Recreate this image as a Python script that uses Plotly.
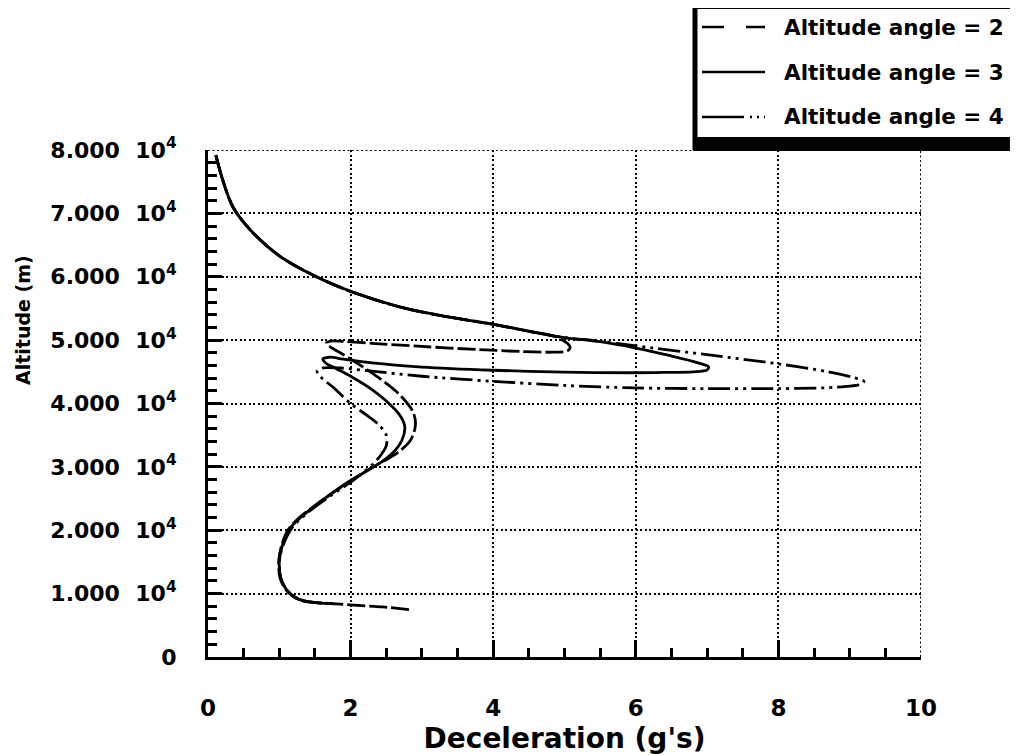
import plotly.graph_objects as go

# ---------------- data ----------------
common_dec = [0.11, 0.2, 0.35, 0.6, 1.0, 1.5, 2.0, 2.7, 3.3, 4.0, 4.5]
common_alt = [79200, 75500, 71000, 67300, 63300, 60100, 57700, 55200, 53800, 52500, 51400]

dec_2 = common_dec + [4.88, 5.04, 5.08, 5.04, 4.85, 4.4, 3.8, 3.0, 2.3, 1.9, 1.72, 1.66, 1.72, 1.9, 2.25,
                      2.65, 2.87, 2.91, 2.84, 2.63, 2.38, 2.1, 1.8, 1.5, 1.27, 1.12, 1.03, 0.99, 1.01,
                      1.08, 1.2, 1.35, 1.55, 1.85, 2.1, 2.45, 2.85]
alt_2 = common_alt + [50500, 49500, 48800, 48300, 48100, 48200, 48500, 49000, 49500, 49800, 49850, 49500,
                      48900, 47700, 45200, 41800, 38800, 36700, 34200, 32000, 30400, 28500, 26300, 23900,
                      21900, 20000, 17500, 15000, 12500, 10800, 9500, 8800, 8550, 8350, 8150, 7900, 7450]

dec_3 = common_dec + [5.0, 5.5, 6.0, 6.5, 6.85, 7.02, 7.0, 6.8, 6.4, 6.0, 5.0, 4.0, 3.0, 2.3, 1.9, 1.7,
                      1.61, 1.65, 1.8, 2.0, 2.3, 2.52, 2.7, 2.76, 2.72, 2.6, 2.45, 2.25, 1.95, 1.6, 1.35,
                      1.15, 1.04, 1.0, 1.02, 1.09, 1.21, 1.36, 1.55, 1.75]
alt_3 = common_alt + [50400, 49750, 48750, 47500, 46500, 45800, 45300, 45000, 44900, 44850, 44950, 45250,
                      45750, 46400, 47000, 47300, 47000, 46400, 45500, 44300, 42200, 40200, 38000, 36300,
                      34200, 32300, 30900, 29500, 27500, 24700, 22500, 20300, 17500, 15000, 12500, 10800,
                      9500, 8800, 8550, 8420]

dec_4 = common_dec + [5.0, 5.5, 6.0, 7.0, 8.0, 8.7, 9.05, 9.2, 9.15, 8.95, 8.7, 8.0, 7.0, 6.0, 5.0, 4.0,
                      3.0, 2.3, 1.85, 1.6, 1.53, 1.58, 1.75, 2.0, 2.22, 2.4, 2.5, 2.5, 2.42, 2.3, 2.05,
                      1.7, 1.4, 1.18, 1.05, 1.0, 1.02, 1.09, 1.21, 1.36, 1.6]
alt_4 = common_alt + [50400, 49850, 49100, 47700, 46250, 45000, 44100, 43500, 43000, 42700, 42500, 42350,
                      42350, 42450, 42850, 43500, 44300, 45100, 45600, 45600, 45100, 44200, 42600, 40000,
                      38200, 36600, 35000, 33300, 31800, 30300, 28000, 25300, 22800, 20400, 17500, 15000,
                      12500, 10800, 9500, 8800, 8500]

series_names = ["Altitude angle = 2", "Altitude angle = 3", "Altitude angle = 4"]

x_range = [0, 10]
y_range = [0, 80000]
x_tickvals = [0, 2, 4, 6, 8, 10]
x_ticktext = ["0", "2", "4", "6", "8", "10"]
y_tickvals = [0, 10000, 20000, 30000, 40000, 50000, 60000, 70000, 80000]
y_ticktext = ["0", "1.000\u00a0\u00a010<sup>4</sup>", "2.000\u00a0\u00a010<sup>4</sup>",
              "3.000\u00a0\u00a010<sup>4</sup>", "4.000\u00a0\u00a010<sup>4</sup>",
              "5.000\u00a0\u00a010<sup>4</sup>", "6.000\u00a0\u00a010<sup>4</sup>",
              "7.000\u00a0\u00a010<sup>4</sup>", "8.000\u00a0\u00a010<sup>4</sup>"]

# ---------------- figure geometry ----------------
OFF = 8                     # page offset of the plot div (body margin)
W, H = 1018 - OFF, 755 - OFF
ML, MT = 208 - OFF, 150 - OFF
MR = W - (921 - OFF)
MB = H - (657 - OFF)
PW, PH = W - ML - MR, H - MT - MB


def PX(px):   # page pixel -> paper
    return (px - OFF - ML) / PW


def PY(py):
    return (H - MB - (py - OFF)) / PH


dashes = ["18px,4px", "solid", "22px,5px,3px,5px,3px,5px"]
fig = go.Figure()
for name, xs, ys, d in zip(series_names, [dec_2, dec_3, dec_4], [alt_2, alt_3, alt_4], dashes):
    fig.add_trace(go.Scatter(x=xs, y=ys, mode="lines", name=name, showlegend=False,
                             line=dict(color="black", width=2.8, dash=d, shape="spline", smoothing=0.9)))

GRID_DASH = "2px,2.5px"
fig.update_layout(
    width=W, height=H,
    margin=dict(l=ML, r=MR, t=MT, b=MB),
    paper_bgcolor="white", plot_bgcolor="white",
    showlegend=False,
    xaxis=dict(
        range=x_range, tickmode="array", tickvals=x_tickvals, ticktext=x_ticktext,
        automargin=False,
        ticks="inside", ticklen=17, tickwidth=2.5, tickcolor="black",
        showline=True, linecolor="black", linewidth=3,
        showgrid=True, gridcolor="black", gridwidth=2, griddash=GRID_DASH,
        zeroline=False, tickfont=dict(family="DejaVu Sans", size=23, color="black", weight="bold"),
        ticklabelstandoff=28,
        minor=dict(tickmode="linear", tick0=0, dtick=0.5, ticks="inside", ticklen=9,
                   tickwidth=2.5, tickcolor="black", showgrid=False),
        title=dict(text="Deceleration (g's)", standoff=13,
                   font=dict(family="DejaVu Sans", size=28, color="black", weight="bold")),
    ),
    yaxis=dict(
        range=y_range, tickmode="array", tickvals=y_tickvals, ticktext=y_ticktext,
        automargin=False,
        ticks="inside", ticklen=14, tickwidth=2.5, tickcolor="black",
        showline=True, linecolor="black", linewidth=3,
        showgrid=True, gridcolor="black", gridwidth=2, griddash=GRID_DASH,
        zeroline=False, tickfont=dict(family="DejaVu Sans", size=22, color="black", weight="bold"),
        ticklabelstandoff=24,
        minor=dict(tickmode="linear", tick0=0, dtick=2000, ticks="inside", ticklen=9,
                   tickwidth=2.5, tickcolor="black", showgrid=False),
    ),
)

# dotted grid lines on the top and right edges (plotly drops edge grid lines)
fig.add_shape(type="line", xref="x", yref="y", x0=x_range[0], x1=x_range[1], y0=y_range[1], y1=y_range[1],
              line=dict(color="black", width=2, dash=GRID_DASH), layer="below")
fig.add_shape(type="line", xref="x", yref="y", x0=x_range[1], x1=x_range[1], y0=y_range[0], y1=y_range[1],
              line=dict(color="black", width=2, dash=GRID_DASH), layer="below")

# y-axis title (sits above the axis centre, as in the reference)
fig.add_annotation(text="Altitude (m)", xref="paper", yref="paper", x=PX(23), y=PY(320),
                   textangle=-90, showarrow=False, xanchor="center", yanchor="middle",
                   font=dict(family="DejaVu Sans", size=19, color="black", weight="bold"))

# ---------------- legend box (drawn) ----------------
fig.add_shape(type="rect", xref="paper", yref="paper", x0=PX(695), x1=PX(1040), y0=PY(8), y1=PY(140),
              line=dict(color="black", width=2), fillcolor="white", layer="above")
fig.add_shape(type="rect", xref="paper", yref="paper", x0=PX(693), x1=PX(1040), y0=PY(137), y1=PY(151),
              line=dict(width=0), fillcolor="black", layer="above")
fig.add_shape(type="line", xref="paper", yref="paper", x0=PX(695), x1=PX(695), y0=PY(8), y1=PY(150),
              line=dict(color="black", width=5), layer="above")
legend_rows = [27, 72, 117]
legend_dashes = ["22px,22px", "solid", "42px,6px,2px,5px,2px,5px,2px,30px"]
for name, ry, d in zip(series_names, legend_rows, legend_dashes):
    fig.add_shape(type="line", xref="paper", yref="paper", x0=PX(702), x1=PX(765), y0=PY(ry), y1=PY(ry),
                  line=dict(color="black", width=2.6, dash=d), layer="above")
    fig.add_annotation(text=name, xref="paper", yref="paper", x=PX(782), y=PY(ry), xanchor="left",
                       yanchor="middle", showarrow=False,
                       font=dict(family="DejaVu Sans", size=21.5, color="black", weight="bold"))

fig.write_html("out.html")
